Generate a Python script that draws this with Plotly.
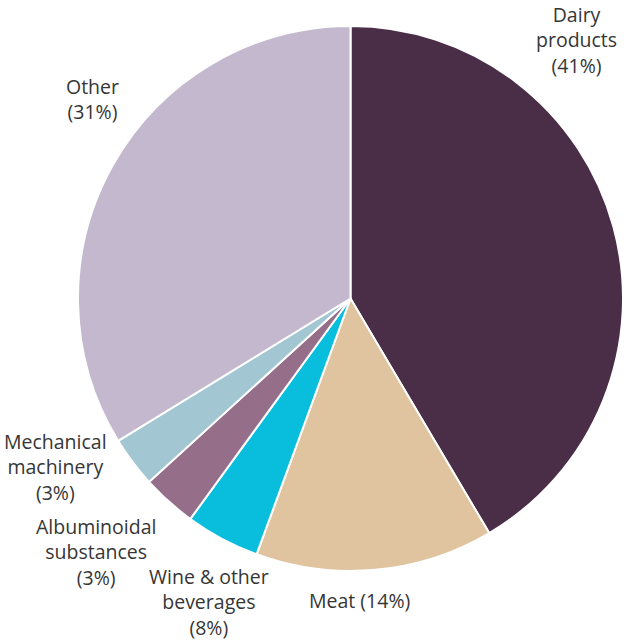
import plotly.graph_objects as go

categories = ["Dairy products", "Meat", "Wine & other beverages",
              "Albuminoidal substances", "Mechanical machinery", "Other"]
slice_values = [41.5, 14.1, 4.4, 3.25, 3.0, 33.75]
label_pcts = ["41%", "14%", "8%", "3%", "3%", "31%"]
label_text = ["Dairy<br>products<br>(41%)", "Meat (14%)", "Wine & other<br>beverages<br>(8%)",
              "Albuminoidal<br>substances<br>(3%)", "Mechanical<br>machinery<br>(3%)", "Other<br>(31%)"]
colors = ["#4a2d47", "#dfc49f", "#09bedd", "#956e89", "#a3c6d3", "#c3b8cd"]

W, H = 625, 641
# label anchor points (pixel centres)
label_xy = [(576, 40), (359, 600), (209, 602), (96, 552), (55, 467), (92, 99)]

fig = go.Figure(go.Pie(
    labels=categories,
    values=slice_values,
    sort=False,
    direction="clockwise",
    rotation=0,
    marker=dict(colors=colors, line=dict(color="white", width=2)),
    textinfo="none",
    hoverinfo="label+value",
    domain=dict(x=[77 / W, 624 / W], y=[1 - 571 / H, 1 - 26 / H]),
    showlegend=False,
))

for txt, (px, py) in zip(label_text, label_xy):
    fig.add_annotation(x=px / W, y=1 - py / H, xref="paper", yref="paper",
                       text=txt, showarrow=False, xanchor="center", yanchor="middle",
                       font=dict(family="Open Sans", size=19.5, color="#363636"))

fig.update_layout(width=W, height=H, margin=dict(l=0, r=0, t=0, b=0),
                  paper_bgcolor="white", plot_bgcolor="white")
fig.write_html("out.html", config={"displayModeBar": False},
               post_script="document.body.style.margin='0';document.body.style.overflow='hidden';")
